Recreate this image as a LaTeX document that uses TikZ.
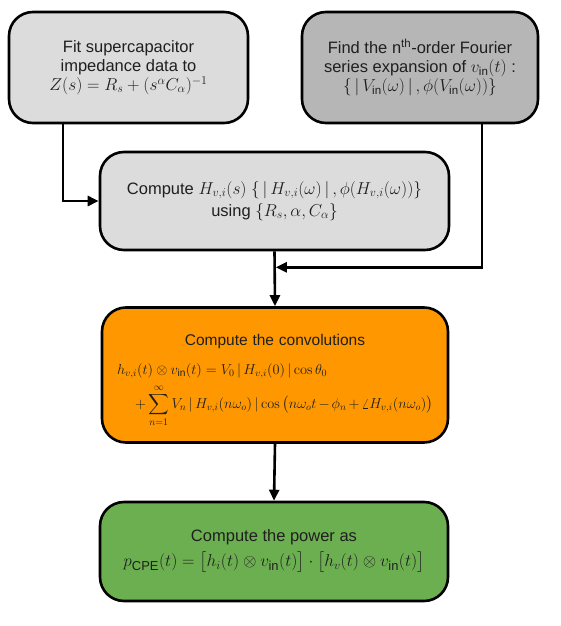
\documentclass[tikz,border=0pt]{standalone}
\usepackage{amsmath}
\usepackage[no-math]{fontspec}
\setmainfont{Liberation Sans}
\usepackage{xcolor}
\usepackage{tikz}
\usetikzlibrary{arrows.meta}

\definecolor{fitgray}{RGB}{220,220,220}
\definecolor{fourgray}{RGB}{182,182,182}
\definecolor{convorange}{RGB}{255,152,0}
\definecolor{powgreen}{RGB}{108,175,80}
\newcommand{\vin}{v_{\text{in}}}
\newcommand{\Vin}{V_{\text{in}}}

\begin{document}
\begin{tikzpicture}[x=1pt,y=-1pt,
  box/.style={draw=black,line width=2.6pt,rounded corners=24pt,align=center,
    font=\fontsize{16.5}{19}\selectfont,text=black!88},
  arr/.style={line width=2.6pt,-{Triangle[length=11pt,width=10pt]}}]
\useasboundingbox (0,0) rectangle (560,626);
% input boxes
\node[box,fill=fitgray,minimum width=239pt,minimum height=111pt] (fit) at (128.5,67.5)
  {Fit supercapacitor\\impedance data to\\$Z(s)=R_s+(s^{\alpha}C_{\alpha})^{-1}$};
\node[box,fill=fourgray,minimum width=236pt,minimum height=111pt] (four) at (420,67.5)
  {Find the n\textsuperscript{th}-order Fourier\\series expansion of $\vin(t)$ :\\
   $\{\,|\,\Vin(\omega)\,|\,,\phi(\Vin(\omega))\}$};
% transfer function
\node[box,fill=fitgray,minimum width=349pt,minimum height=98pt] (hv) at (274.5,201)
  {Compute $H_{v,i}(s)$ $\{\,|\,H_{v,i}(\omega)\,|\,,\phi(H_{v,i}(\omega))\}$\\[3pt]
   using $\{R_s,\alpha,C_{\alpha}\}$};
% convolutions
\node[box,fill=convorange,minimum width=346pt,minimum height=135pt,align=left,
  text width=316pt,font=\fontsize{14.5}{18}\selectfont] (conv) at (275,375)
  {\makebox[\linewidth]{\rule{0pt}{22pt}\fontsize{15.5}{18}\selectfont Compute the convolutions}\\[11pt]
   $h_{v,i}(t)\otimes \vin(t)=V_0\,|\,H_{v,i}(0)\,|\cos\theta_0$\\[5pt]
   \hspace*{18pt}$+\displaystyle\sum_{n=1}^{\infty}V_n\,|\,H_{v,i}(n\omega_o)\,|\cos\big(n\omega_o t-\phi_n+\angle H_{v,i}(n\omega_o)\big)$};
% power
\node[box,fill=powgreen,minimum width=348pt,minimum height=99pt] (pwr) at (274,551.5)
  {Compute the power as\\[6pt]
   {\fontsize{18.5}{20}\selectfont$p_{\text{CPE}}(t)=\big[h_i(t)\otimes \vin(t)\big]\cdot\big[h_v(t)\otimes \vin(t)\big]$}};
% connectors
\draw[arr] ([xshift=-65.5pt]fit.south) |- (hv.west);
\draw[arr] ([xshift=62pt]four.south) |- ([xshift=1.3pt,yshift=-16pt]hv.south);
\draw[arr] (hv.south) -- (conv.north);
\draw[arr] (conv.south) -- (pwr.north);
\end{tikzpicture}
\end{document}
